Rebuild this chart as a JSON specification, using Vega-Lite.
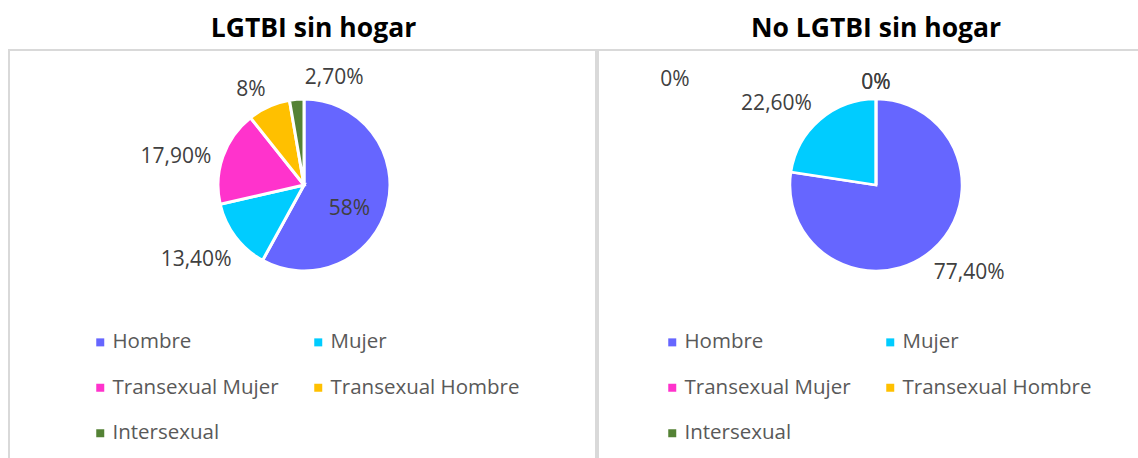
{
  "$schema": "https://vega.github.io/schema/vega-lite/v6.json",
  "background": "white",
  "padding": {"left": 8, "top": 14, "right": 0, "bottom": 0},
  "spacing": 0,
  "resolve": {"legend": {"color": "independent"}},
  "config": {
    "view": {"stroke": "#d9d9d9", "strokeWidth": 2},
    "title": {"font": "Open Sans", "fontSize": 26.5, "fontWeight": "bold", "color": "#000000", "offset": 8, "frame": "group"},
    "legend": {"orient": "none", "direction": "horizontal", "columns": 2, "symbolType": "square", "symbolSize": 64, "symbolStrokeWidth": 0, "labelFont": "Open Sans", "labelFontSize": 20.5, "labelColor": "#595959", "rowPadding": 24.5, "columnPadding": 29, "labelOffset": 2, "padding": 0, "labelLimit": 400},
    "text": {"font": "Open Sans", "fontSize": 21, "color": "#404040"}
  },
  "hconcat": [
    {
      "title": {"text": "LGTBI sin hogar", "dx": 11},
      "width": 587,
      "height": 412,
      "view": {"stroke": "#d9d9d9", "strokeWidth": 2},
      "data": {"values": [
        {"categoria": "Hombre", "valor": 58, "etiqueta": "58%", "orden": 1},
        {"categoria": "Mujer", "valor": 13.4, "etiqueta": "13,40%", "orden": 2},
        {"categoria": "Transexual Mujer", "valor": 17.9, "etiqueta": "17,90%", "orden": 3},
        {"categoria": "Transexual Hombre", "valor": 8, "etiqueta": "8%", "orden": 4},
        {"categoria": "Intersexual", "valor": 2.7, "etiqueta": "2,70%", "orden": 5}
      ]},
      "encoding": {
        "theta": {"field": "valor", "type": "quantitative", "stack": true},
        "order": {"field": "orden", "type": "quantitative"}
      },
      "layer": [
        {
          "mark": {"type": "arc", "outerRadius": 86, "stroke": "white", "strokeWidth": 3, "xOffset": 1.5, "yOffset": -71},
          "encoding": {
            "color": {"field": "categoria", "type": "nominal",
              "scale": {"domain": ["Hombre", "Mujer", "Transexual Mujer", "Transexual Hombre", "Intersexual"], "range": ["#6666ff", "#00ccff", "#ff33cc", "#ffc000", "#548235"]},
              "sort": null,
              "legend": {"title": null, "legendX": 81, "legendY": 282}}
          }
        },
        {
          "mark": {"type": "text", "radius": 50, "dx": -3, "dy": 12, "xOffset": 1.5, "yOffset": -71},
          "encoding": {"text": {"condition": {"test": "datum.categoria !== 'Hombre'", "value": ""}, "field": "etiqueta"}}
        },
        {
          "mark": {"type": "text", "radius": 124, "dx": -9, "xOffset": 1.5, "yOffset": -71},
          "encoding": {"text": {"condition": {"test": "datum.categoria !== 'Mujer'", "value": ""}, "field": "etiqueta"}}
        },
        {
          "mark": {"type": "text", "radius": 124, "dx": -11, "dy": 13, "xOffset": 1.5, "yOffset": -71},
          "encoding": {"text": {"condition": {"test": "datum.categoria !== 'Transexual Mujer'", "value": ""}, "field": "etiqueta"}}
        },
        {
          "mark": {"type": "text", "radius": 110, "dx": -8, "dy": 5, "xOffset": 1.5, "yOffset": -71},
          "encoding": {"text": {"condition": {"test": "datum.categoria !== 'Transexual Hombre'", "value": ""}, "field": "etiqueta"}}
        },
        {
          "mark": {"type": "text", "radius": 105, "dx": 39, "dy": -2, "xOffset": 1.5, "yOffset": -71},
          "encoding": {"text": {"condition": {"test": "datum.categoria !== 'Intersexual'", "value": ""}, "field": "etiqueta"}}
        }
      ]
    },
    {
      "title": {"text": "No LGTBI sin hogar", "dx": 7},
      "width": 542,
      "height": 412,
      "view": {"stroke": "#d9d9d9", "strokeWidth": 2},
      "data": {"values": [
        {"categoria": "Hombre", "valor": 77.4, "etiqueta": "77,40%", "orden": 1},
        {"categoria": "Mujer", "valor": 22.6, "etiqueta": "22,60%", "orden": 2},
        {"categoria": "Transexual Mujer", "valor": 0, "etiqueta": "0%", "orden": 3},
        {"categoria": "Transexual Hombre", "valor": 0, "etiqueta": "0%", "orden": 4},
        {"categoria": "Intersexual", "valor": 0, "etiqueta": "0%", "orden": 5}
      ]},
      "encoding": {
        "theta": {"field": "valor", "type": "quantitative", "stack": true},
        "order": {"field": "orden", "type": "quantitative"}
      },
      "layer": [
        {
          "mark": {"type": "arc", "outerRadius": 86, "stroke": "white", "strokeWidth": 2.5, "xOffset": 7, "yOffset": -71},
          "encoding": {
            "color": {"field": "categoria", "type": "nominal",
              "scale": {"domain": ["Hombre", "Mujer", "Transexual Mujer", "Transexual Hombre", "Intersexual"], "range": ["#6666ff", "#00ccff", "#ff33cc", "#ffc000", "#548235"]},
              "sort": null,
              "legend": {"title": null, "legendX": 64, "legendY": 282}}
          }
        },
        {
          "mark": {"type": "text", "radius": 100, "dx": 28, "dy": 12, "xOffset": 7, "yOffset": -71},
          "encoding": {"text": {"condition": {"test": "datum.categoria !== 'Hombre'", "value": ""}, "field": "etiqueta"}}
        },
        {
          "mark": {"type": "text", "radius": 125, "dx": -18, "dy": 14, "xOffset": 7, "yOffset": -71},
          "encoding": {"text": {"condition": {"test": "datum.categoria !== 'Mujer'", "value": ""}, "field": "etiqueta"}}
        },
        {
          "mark": {"type": "text", "radius": 105, "dy": 3, "xOffset": 7, "yOffset": -71},
          "encoding": {"text": {"condition": {"test": "datum.categoria !== 'Transexual Hombre' && datum.categoria !== 'Intersexual'", "value": ""}, "field": "etiqueta"}}
        },
        {
          "mark": {"type": "text", "radius": 105, "dx": -201, "xOffset": 7, "yOffset": -71},
          "encoding": {"text": {"condition": {"test": "datum.categoria !== 'Transexual Mujer'", "value": ""}, "field": "etiqueta"}}
        }
      ]
    }
  ]
}
